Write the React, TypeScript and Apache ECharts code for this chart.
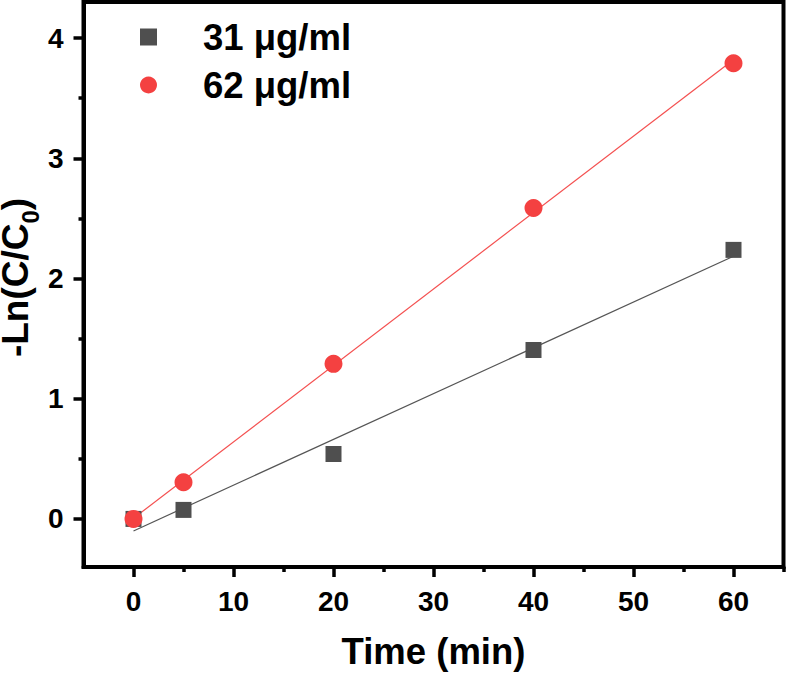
import React, { useEffect, useRef } from "react";
import * as echarts from "echarts";

const timeMin = [0, 5, 20, 40, 60];
const conc31 = [0, 0.075, 0.54, 1.405, 2.238];
const conc62 = [0, 0.305, 1.29, 2.587, 3.79];
const fit31 = [[0, -0.1], [60, 2.185]];
const fit62 = [[0, 0.005], [60, 3.82]];
const xMajor = [0, 10, 20, 30, 40, 50, 60];
const xMinor = [5, 15, 25, 35, 45, 55, 65];
const yMajor = [0, 1, 2, 3, 4];
const yMinor = [0.5, 1.5, 2.5, 3.5];
const seriesNames = ["31 μg/ml", "62 μg/ml"];

const FONT = "'Liberation Sans', Arial, sans-serif";

export default function App() {
  const ref = useRef<HTMLDivElement>(null);
  useEffect(() => {
    if (!ref.current) return;
    const chart = echarts.init(ref.current, null, { renderer: "svg" });
    const lbl = { fontSize: 28, fontWeight: "bold", color: "#000", fontFamily: FONT };
    const option: any = {
      animation: false,
      backgroundColor: "#fff",
      grid: {
        left: 83.5, right: 3.5, top: 2, bottom: 106,
        containLabel: false,
        outerBoundsMode: "none",
        show: true, borderColor: "#000", borderWidth: 4,
      },
      legend: {
        orient: "vertical",
        left: 140, top: 17,
        padding: 0,
        itemWidth: 17, itemHeight: 17,
        itemGap: 8,
        data: seriesNames,
        textStyle: {
          fontSize: 36.5, fontWeight: "bold", color: "#000", fontFamily: FONT,
          lineHeight: 40, padding: [0, 0, 0, 41],
        },
      },
      xAxis: [
        {
          type: "value", min: -5, max: 65, position: "bottom",
          name: "Time (min)", nameLocation: "middle", nameGap: 66,
          nameTextStyle: { fontSize: 36.5, fontWeight: "bold", color: "#000", fontFamily: FONT },
          axisLine: { show: true, onZero: false, lineStyle: { color: "#000", width: 4 } },
          axisTick: { show: true, customValues: xMajor, length: 10, lineStyle: { color: "#000", width: 3.5 } },
          axisLabel: { customValues: xMajor, margin: 20, ...lbl },
          splitLine: { show: false },
        },
        {
          type: "value", min: -5, max: 65, position: "bottom",
          axisLine: { show: false, onZero: false },
          axisTick: { show: true, customValues: xMinor, length: 5, lineStyle: { color: "#000", width: 3.5 } },
          axisLabel: { show: false },
          splitLine: { show: false },
        },
      ],
      yAxis: [
        {
          type: "value", min: -0.4, max: 4.3, position: "left",
          name: "{p|-Ln(C/C}{b|0}{a|)}", nameLocation: "middle", nameGap: 41.5, nameRotate: 90,
          nameMoveOverlap: false,
          nameTextStyle: {
            rich: {
              p: { fontSize: 37, lineHeight: 45, verticalAlign: "top", fontWeight: "bold", color: "#000", fontFamily: FONT, padding: [0, 0, 0, 14] },
              a: { fontSize: 37, lineHeight: 45, verticalAlign: "top", fontWeight: "bold", color: "#000", fontFamily: FONT },
              b: { fontSize: 24, lineHeight: 24, verticalAlign: "bottom", fontWeight: "bold", color: "#000", fontFamily: FONT },
            },
          },
          axisLine: { show: true, onZero: false, lineStyle: { color: "#000", width: 4 } },
          axisTick: { show: true, customValues: yMajor, length: 10, lineStyle: { color: "#000", width: 3.5 } },
          axisLabel: { customValues: yMajor, margin: 20, ...lbl },
          splitLine: { show: false },
        },
        {
          type: "value", min: -0.4, max: 4.3, position: "left",
          axisLine: { show: false, onZero: false },
          axisTick: { show: true, customValues: yMinor, length: 5, lineStyle: { color: "#000", width: 3.5 } },
          axisLabel: { show: false },
          splitLine: { show: false },
        },
      ],
      series: [
        {
          type: "line", data: fit31, showSymbol: false, silent: true, z: 1,
          lineStyle: { color: "#555555", width: 1.2 },
        },
        {
          type: "line", data: fit62, showSymbol: false, silent: true, z: 1,
          lineStyle: { color: "#f45050", width: 1.2 },
        },
        {
          name: seriesNames[0], type: "scatter", symbol: "rect", symbolSize: 16, z: 3,
          itemStyle: { color: "#4f4f4f", opacity: 1 },
          data: timeMin.map((t, i) => [t, conc31[i]]),
        },
        {
          name: seriesNames[1], type: "scatter", symbol: "circle", symbolSize: 18, z: 4,
          itemStyle: { color: "#f44141", opacity: 1 },
          data: timeMin.map((t, i) => [t, conc62[i]]),
        },
      ],
    };
    chart.setOption(option);
    return () => chart.dispose();
  }, []);
  return (
    <div
      ref={ref}
      style={{ position: "fixed", left: 0, top: 0, width: 787, height: 673, background: "#fff" }}
    />
  );
}
